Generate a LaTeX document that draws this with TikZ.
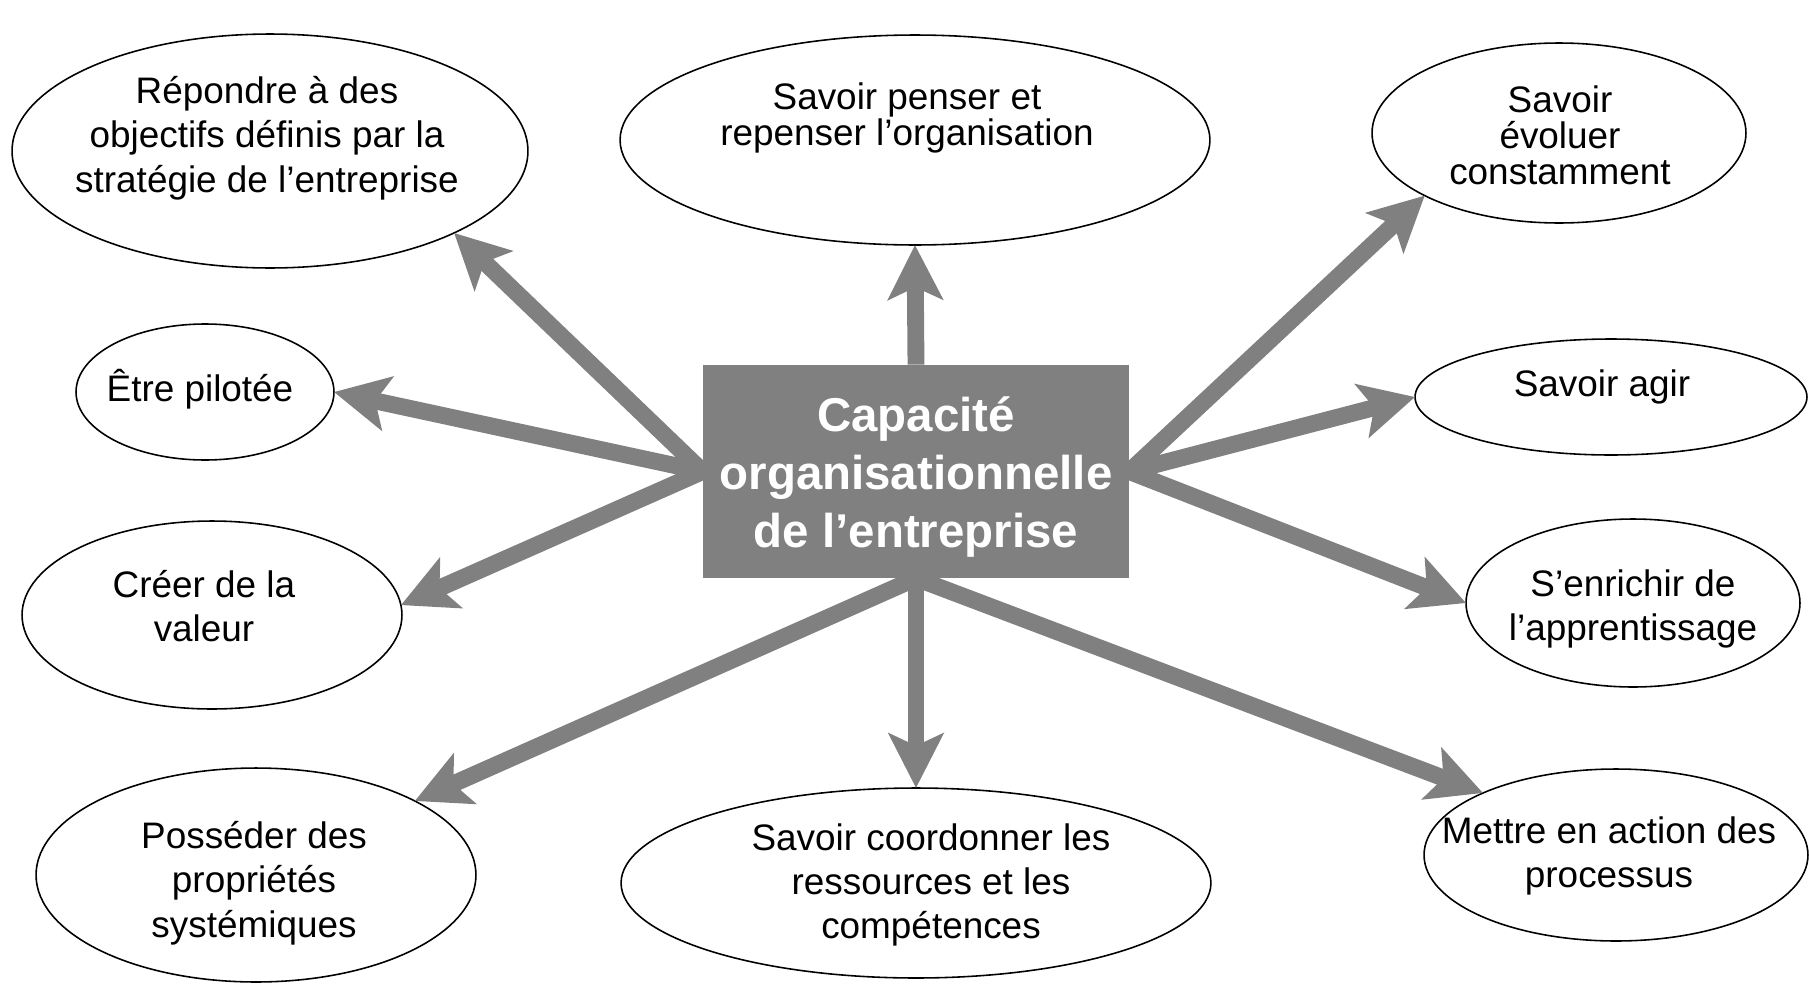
\documentclass[tikz,border=0pt]{standalone}
\usepackage{fontspec}
\setmainfont{Liberation Sans}
\usetikzlibrary{arrows.meta,shapes.geometric}
\definecolor{gris}{RGB}{128,128,128}
\begin{document}
\begin{tikzpicture}[x=0.02cm,y=-0.02cm,
  bulle/.style={ellipse,draw,line width=0.9pt,inner sep=0pt,outer sep=0pt},
  texte/.style={align=center,inner sep=0pt,font=\fontsize{21}{25.2}\selectfont},
  serre/.style={font=\fontsize{21}{20.4}\selectfont},
  fleche/.style={draw=gris,line width=9.6pt,-{Stealth[length=31pt,width=31pt,inset=7pt]}}]
\useasboundingbox (0,0) rectangle (1809,984);
% ellipses
\node[bulle,minimum width=10.32cm,minimum height=4.68cm] (rep) at (270,151) {};
\node[bulle,minimum width=11.8cm,minimum height=4.2cm] (pens) at (915,140) {};
\node[bulle,minimum width=7.48cm,minimum height=3.6cm] (evol) at (1559,133) {};
\node[bulle,minimum width=5.16cm,minimum height=2.72cm] (pilo) at (205,392) {};
\node[bulle,minimum width=7.84cm,minimum height=2.32cm] (agir) at (1611,397) {};
\node[bulle,minimum width=7.6cm,minimum height=3.76cm] (val) at (212,615) {};
\node[bulle,minimum width=6.68cm,minimum height=3.36cm] (appr) at (1633,603) {};
\node[bulle,minimum width=8.8cm,minimum height=4.28cm] (syst) at (256,875) {};
\node[bulle,minimum width=11.8cm,minimum height=3.8cm] (coord) at (916,883) {};
\node[bulle,minimum width=7.68cm,minimum height=3.44cm] (proc) at (1616,855) {};
% textes
\node[texte] (rep-t) at (267,138) {Répondre à des\\objectifs définis par la\\stratégie de l’entreprise};
\node[texte,serre] (pens-t) at (907,118) {Savoir penser et\\repenser l’organisation};
\node[texte,serre] (evol-t) at (1560,135) {Savoir\\évoluer\\constamment};
\node[texte] (pilo-t) at (200,389) {Être pilotée};
\node[texte] (agir-t) at (1602,387) {Savoir agir};
\node[texte] (val-t) at (204,606) {Créer de la\\valeur};
\node[texte] (appr-t) at (1633,609) {S’enrichir de\\l’apprentissage};
\node[texte] (syst-t) at (254,883) {Posséder des\\propriétés\\systémiques};
\node[texte] (coord-t) at (931,885) {Savoir coordonner les\\ressources et les\\compétences};
\node[texte] (proc-t) at (1609,856) {Mettre en action des\\processus};
% boite centrale
\node[fill=gris,minimum width=8.52cm,minimum height=4.26cm,inner sep=0pt] (cap) at (916,471.5) {};
\node[text=white,font=\bfseries\fontsize{27}{32.9}\selectfont,align=center,inner sep=0pt]
  (cap-t) at (916,477) {Capacité\\organisationnelle\\de l’entreprise};
% fleches
\foreach \de/\vers in {cap.west/rep.336,cap.west/pilo.east,cap.west/val.3,
  cap.north/pens.south,cap.east/evol.205,cap.east/agir.west,cap.east/appr.west,
  cap.south/syst.25,cap.south/coord.north,cap.south/proc.155}
  \draw[fleche] (\de) -- (\vers);
\end{tikzpicture}
\end{document}
